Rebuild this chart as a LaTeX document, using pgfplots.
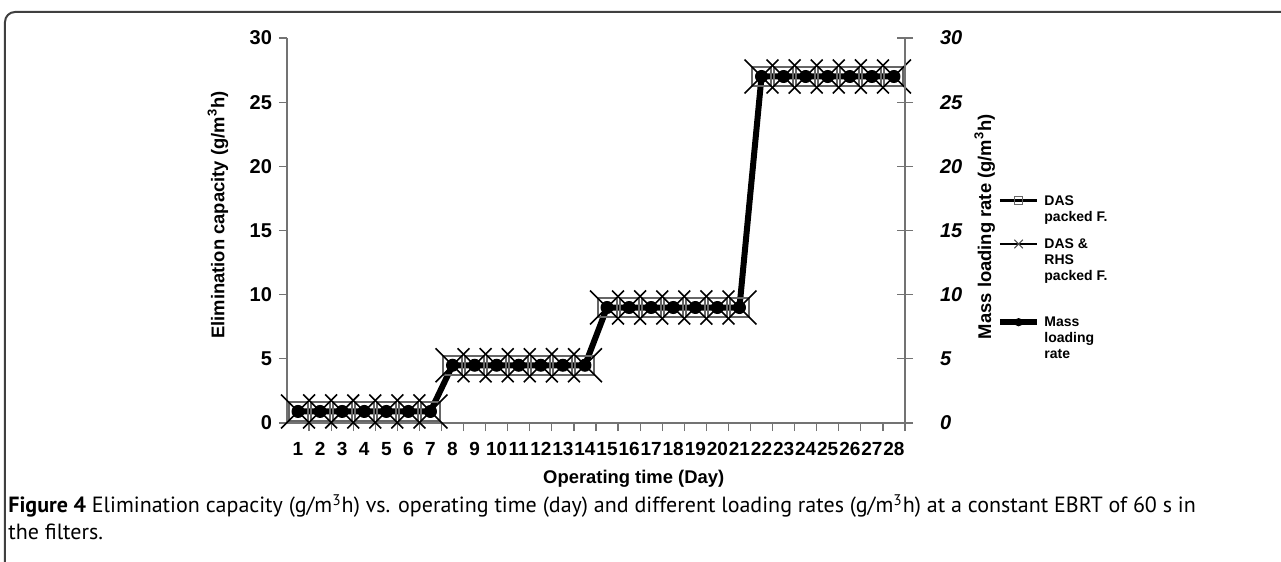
\documentclass[border=0pt]{standalone}
\usepackage{fontspec}
\setmainfont{Liberation Sans}
\newfontfamily\capfont{PT Sans}
\usepackage{pgfplots}
\pgfplotsset{compat=1.18}

\begin{document}
\begin{tikzpicture}
\useasboundingbox (-143.5pt,-69.5pt) rectangle (497pt,211.5pt);
\draw[black!75, line width=1pt, rounded corners=5pt] (-141pt,-72pt) -- (-141pt,205.5pt) -- (500pt,205.5pt);

\begin{axis}[
  at={(0pt,0pt)}, anchor=south west,
  scale only axis, width=309pt, height=192.5pt,
  xmin=0.5, xmax=28.5, ymin=0, ymax=30,
  axis x line=bottom, axis y line=left,
  axis line style={-, black!55, line width=0.8pt},
  tick align=outside,
  xtick={1,...,28},
  major x tick style={draw=none},
  minor xtick={1.5,2.5,...,28.5},
  minor x tick style={black!55, line width=0.6pt},
  minor tick length=4pt,
  ytick={0,5,...,30},
  y tick style={black!55, line width=0.6pt},
  major tick length=4pt,
  /pgf/number format/assume math mode=true,
  xticklabel style={font=\fontsize{9.5}{11}\selectfont\bfseries, yshift=-2pt},
  yticklabel style={font=\fontsize{10}{12}\selectfont\bfseries},
  xlabel={Operating time (Day)},
  ylabel={Elimination capacity (g/m\textsuperscript{3}h)},
  label style={font=\fontsize{9.2}{11}\selectfont\bfseries},
  xlabel style={at={(axis description cs:0.561,-0.145)}, anchor=center},
  ylabel style={at={(axis description cs:-0.1117,0.54)}, anchor=center},
  legend style={at={(1.148,0.604)}, anchor=north west, draw=none, fill=none,
    font=\fontsize{7}{8}\selectfont\bfseries,
    cells={align=left, anchor=north west, inner sep=1pt}, row sep=3pt, inner sep=0pt},
  legend image code/.code={\draw[mark repeat=2,mark phase=2] plot coordinates {(0cm,-5pt) (0.33cm,-5pt) (0.66cm,-5pt)};},
  clip=false,
]
\addplot[black, line width=1.5pt, mark=square, mark size=4.75pt,
  mark options={draw=black!60, line width=1pt, solid},
  legend image post style={mark size=2pt, mark options={draw=black!60, line width=0.5pt}}]
  coordinates {(1,0.9) (2,0.9) (3,0.9) (4,0.9) (5,0.9) (6,0.9) (7,0.9)
  (8,4.5) (9,4.5) (10,4.5) (11,4.5) (12,4.5) (13,4.5) (14,4.5)
  (15,9) (16,9) (17,9) (18,9) (19,9) (20,9) (21,9)
  (22,27) (23,27) (24,27) (25,27) (26,27) (27,27) (28,27)};
\addlegendentry{DAS\\packed F.}
\addplot[black, line width=0.8pt, mark=x, mark size=12pt,
  mark options={line width=0.8pt, solid},
  legend image post style={mark size=3pt, mark options={black!70, line width=0.5pt}}]
  coordinates {(1,0.9) (2,0.9) (3,0.9) (4,0.9) (5,0.9) (6,0.9) (7,0.9)
  (8,4.5) (9,4.5) (10,4.5) (11,4.5) (12,4.5) (13,4.5) (14,4.5)
  (15,9) (16,9) (17,9) (18,9) (19,9) (20,9) (21,9)
  (22,27) (23,27) (24,27) (25,27) (26,27) (27,27) (28,27)};
\addlegendentry{DAS \&\\RHS\\packed F.\\[1.5pt]\mbox{}}
\addplot[black, line width=3pt, mark=*, mark size=3pt,
  mark options={fill=black, line width=0.5pt, solid},
  legend image post style={mark size=1.8pt}]
  coordinates {(1,0.9) (2,0.9) (3,0.9) (4,0.9) (5,0.9) (6,0.9) (7,0.9)
  (8,4.5) (9,4.5) (10,4.5) (11,4.5) (12,4.5) (13,4.5) (14,4.5)
  (15,9) (16,9) (17,9) (18,9) (19,9) (20,9) (21,9)
  (22,27) (23,27) (24,27) (25,27) (26,27) (27,27) (28,27)};
\addlegendentry{Mass\\loading\\rate}
\end{axis}

\begin{axis}[
  at={(0pt,0pt)}, anchor=south west,
  scale only axis, width=309pt, height=192.5pt,
  xmin=0.5, xmax=28.5, ymin=0, ymax=30,
  axis x line=none, axis y line*=right,
  axis line style={-, black!55, line width=0.8pt},
  ytick={0,5,...,30},
  tick align=center,
  y tick style={black!55, line width=0.6pt},
  major tick length=8pt,
  /pgf/number format/assume math mode=true,
  yticklabel style={font=\fontsize{10}{12}\selectfont\bfseries\itshape, xshift=10pt},
  ylabel={Mass loading rate (g/m\textsuperscript{3}h)},
  ylabel style={font=\fontsize{9.2}{11}\selectfont\bfseries, at={(axis description cs:1.129,0.51)}, anchor=center, rotate=0},
]
\end{axis}

\node[anchor=base west, align=left, inner sep=0pt, font=\capfont\fontsize{11}{13.5}\selectfont] at (-139.5pt,-58.5pt)
  {\textbf{Figure 4} Elimination capacity (g/m\textsuperscript{3}h) vs. operating time (day) and different loading rates (g/m\textsuperscript{3}h) at a constant EBRT of 60 s in\\the filters.};
\end{tikzpicture}
\end{document}
